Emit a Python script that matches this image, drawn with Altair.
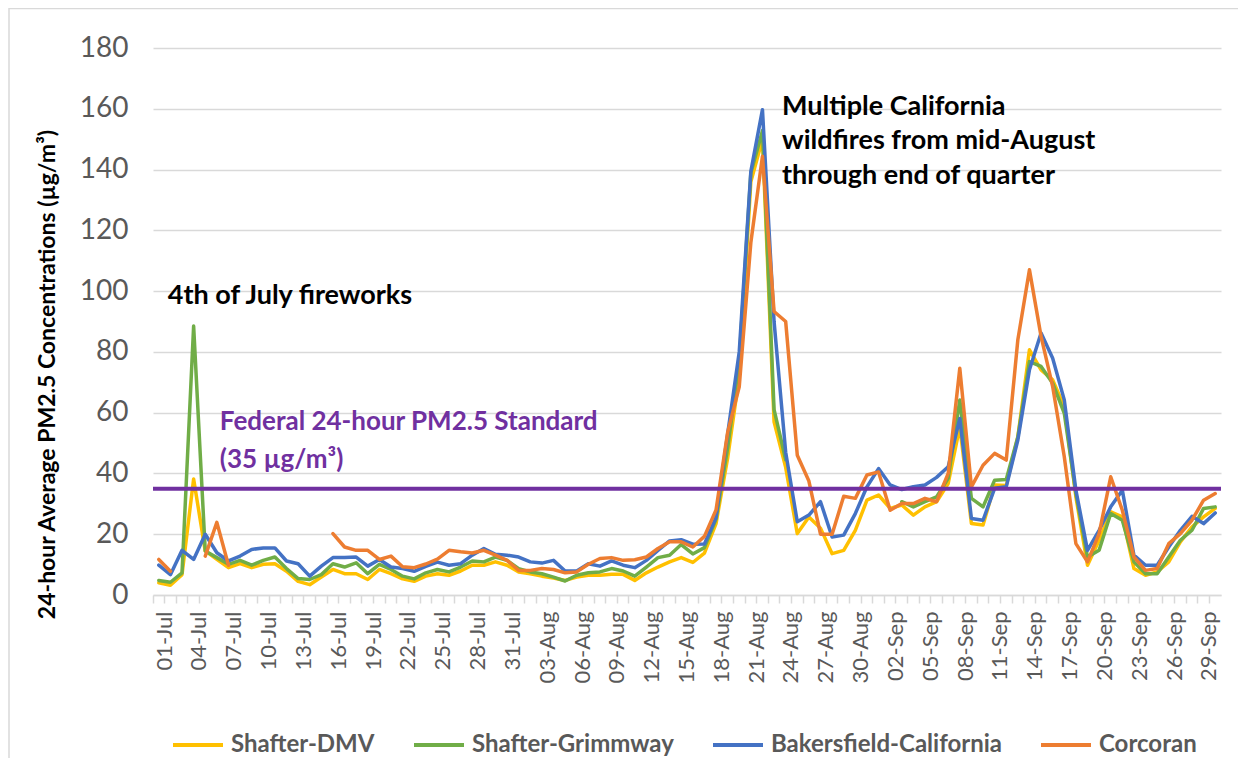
import json
import altair as alt
import pandas as pd

# ---------------- data ----------------
months = [("Jul", 31), ("Aug", 31), ("Sep", 30)]
dates = [f"{d:02d}-{m}" for m, n in months for d in range(1, n + 1)]
label_dates = dates[::3]

series_names = ["Shafter-DMV", "Shafter-Grimmway", "Bakersfield-California", "Corcoran"]
series_colors = ["#FFC000", "#70AD47", "#4472C4", "#ED7D31"]

shafter_dmv = [
    4.0, 3.2, 6.7, 38.2, 14.5, 11.7, 9.0, 10.3, 9.0, 10.1,
    10.3, 7.8, 4.5, 3.4, 5.9, 8.4, 7.0, 7.0, 5.1, 8.4,
    7.0, 5.3, 4.5, 6.2, 7.0, 6.5, 7.9, 9.8, 9.8, 10.9,
    9.8, 7.6, 7.0, 6.2, 5.6, 4.8, 5.9, 6.5, 6.5, 6.8,
    6.8, 4.8, 7.3, 9.2, 10.9, 12.3, 10.7, 13.8, 23.5, 45.0,
    72.0, 136.0, 150.0, 57.0, 42.0, 20.2, 25.7, 22.0, 13.6, 14.7,
    21.3, 31.2, 32.9, 28.5, 29.6, 26.3, 29.0, 30.7, 36.7, 55.4,
    23.5, 23.0, 36.2, 36.0, 52.0, 80.7, 74.1, 70.8, 62.0, 32.3,
    9.8, 18.0, 27.4, 25.7, 8.7, 6.5, 7.6, 10.9, 17.5, 22.4,
    25.7, 28.5,
]
shafter_grimmway = [
    4.8, 4.2, 7.3, 88.5, 14.5, 12.3, 10.1, 11.4, 9.8, 11.4,
    12.5, 8.7, 5.4, 5.1, 6.7, 10.3, 9.2, 10.6, 7.0, 10.1,
    8.4, 6.2, 5.3, 7.3, 8.4, 7.6, 9.2, 11.2, 10.9, 12.5,
    11.4, 8.7, 7.6, 7.0, 5.9, 4.6, 6.5, 7.3, 7.6, 8.7,
    7.9, 6.2, 9.2, 12.3, 13.1, 16.6, 13.5, 15.6, 25.0, 48.3,
    77.0, 138.9, 152.8, 61.0, 44.5, None, None, None, None, None,
    None, None, None, None, 30.7, 29.0, 30.7, 32.3, 38.4, 64.2,
    31.8, 29.0, 37.8, 38.0, 52.0, 76.8, 75.2, 69.7, 59.8, 33.4,
    12.5, 14.7, 26.8, 24.6, 10.9, 7.0, 7.0, 12.5, 18.0, 21.3,
    28.5, 29.0,
]
bakersfield = [
    9.8, 6.7, 14.7, 11.7, 20.0, 13.9, 11.2, 12.8, 15.0, 15.5,
    15.5, 11.2, 10.3, 6.2, 9.5, 12.3, 12.3, 12.5, 9.5, 11.7,
    9.2, 8.7, 7.8, 9.4, 10.8, 9.8, 10.3, 13.1, 15.3, 13.4,
    13.1, 12.5, 10.9, 10.5, 11.4, 7.9, 7.9, 10.3, 9.5, 11.2,
    9.8, 9.0, 11.4, 14.7, 17.8, 18.2, 16.7, 16.8, 25.5, 53.0,
    80.0, 139.4, 159.7, 90.0, 47.0, 24.1, 26.3, 30.7, 19.1, 19.7,
    26.8, 35.6, 41.6, 36.2, 34.7, 35.6, 36.2, 38.7, 42.2, 58.1,
    25.2, 24.6, 35.1, 35.6, 51.0, 74.1, 86.2, 77.9, 64.2, 34.5,
    14.7, 21.3, 29.0, 34.5, 13.1, 9.8, 9.8, 15.8, 21.3, 25.9,
    23.5, 27.0,
]
corcoran = [
    11.7, 7.8, None, None, 12.8, 23.9, 9.8, None, None, None,
    None, None, None, None, None, 20.2, 15.8, 14.7, 14.7, 11.7,
    12.8, 9.3, 9.0, 10.2, 11.8, 14.7, 14.2, 13.8, 14.7, 13.1,
    11.4, 8.1, 8.1, 8.7, 8.4, 7.3, 7.6, 10.1, 12.0, 12.3,
    11.4, 11.6, 12.5, 15.3, 17.5, 17.5, 15.8, 19.3, 28.0, 53.5,
    68.5, 116.0, 144.4, 93.3, 90.0, 46.0, 37.5, 20.0, 20.0, 32.5,
    31.8, 39.5, 40.5, 27.9, 30.1, 30.1, 31.8, 30.7, 40.0, 74.6,
    35.6, 42.7, 46.6, 44.4, 84.0, 107.0, 85.1, 68.6, 45.5, 16.9,
    10.9, 20.2, 38.9, 27.9, 12.5, 8.1, 8.7, 16.9, 20.2, 24.6,
    31.2, 33.4,
]
all_series = [shafter_dmv, shafter_grimmway, bakersfield, corcoran]

standard = 35
standard_text = ["Federal 24-hour PM2.5 Standard", "(35 µg/m³)"]
fireworks_text = ["4th of July fireworks"]
wildfire_text = ["Multiple California", "wildfires from mid-August", "through end of quarter"]

y_title = "24-hour Average PM2.5 Concentrations (µg/m³)"
y_ticks = list(range(0, 181, 20))

# ---------------- tables ----------------
rows = []
for name, vals in zip(series_names, all_series):
    for d, v in zip(dates, vals):
        rows.append({"date": d, "series": name, "value": v})
df = pd.DataFrame(rows)

W, H = 1068, 547
band = W / len(dates)
FONT = "Lato"

x_enc = alt.X(
    "date:O",
    sort=dates,
    scale=alt.Scale(type="band", domain=dates, paddingInner=0, paddingOuter=0),
    axis=alt.Axis(
        title=None,
        labelAngle=-90,
        labelExpr="indexof(" + json.dumps(label_dates) + ", datum.value) >= 0 ? datum.value : ''",
        labelOverlap=False,
        bandPosition=0,
        labelOffset=band / 2,
        labelFont=FONT,
        labelFontSize=22,
        labelColor="#595959",
        labelPadding=8,
        tickColor="#D9D9D9",
        tickSize=8,
        tickWidth=1.5,
        domainColor="#D9D9D9",
        domainWidth=1.5,
        grid=False,
    ),
)
y_enc = alt.Y(
    "value:Q",
    scale=alt.Scale(domain=[0, 180], nice=False, zero=True),
    axis=alt.Axis(
        values=y_ticks,
        title=y_title,
        titleFont=FONT,
        titleFontSize=23,
        titleFontWeight="bold",
        titleColor="#000000",
        titleX=-106,
        titleY=326,
        titleBaseline="middle",
        labelFont=FONT,
        labelFontSize=28,
        labelColor="#595959",
        labelPadding=25,
        ticks=False,
        domain=False,
        gridColor="#D9D9D9",
        gridWidth=1.5,
    ),
)

legend = alt.Legend(
    title=None,
    orient="none",
    legendX=18,
    legendY=670,
    direction="horizontal",
    symbolType="stroke",
    symbolSize=2500,
    symbolStrokeWidth=4,
    labelFont=FONT,
    labelFontSize=24,
    labelFontWeight="bold",
    labelColor="#595959",
    labelOffset=6,
    labelLimit=500,
    columnPadding=31,
    padding=0,
)
color_enc = alt.Color(
    "series:N",
    scale=alt.Scale(domain=series_names, range=series_colors),
    legend=legend,
)

frame = alt.Chart(pd.DataFrame({"k": [0]})).mark_rect(
    filled=False, stroke="#D9D9D9", strokeWidth=1.5
).encode(
    x=alt.value(-144), x2=alt.value(W + 80), y=alt.value(-39.5), y2=alt.value(H + 300)
)

line_layers = []
for name in series_names:
    line_layers.append(
        alt.Chart(df)
        .transform_filter(alt.datum.series == name)
        .mark_line(strokeWidth=3.5, strokeJoin="round", strokeCap="round",
                   invalid="break-paths-show-domains")
        .encode(x=x_enc, y=y_enc, color=color_enc)
    )

std_rule = alt.Chart(pd.DataFrame({"value": [standard]})).mark_rule(
    color="#7030A0", strokeWidth=4
).encode(y=y_enc)

fire_df = pd.DataFrame({"date": [dates[0]], "value": [98.4], "text": fireworks_text})
fire_txt = alt.Chart(fire_df).mark_text(
    align="left", baseline="middle", dx=9, font=FONT, fontSize=27,
    fontWeight="bold", color="#000000"
).encode(x=x_enc, y=y_enc, text="text:N")

wild_df = pd.DataFrame({"date": [dates[53]] * 3, "value": [160.6, 149.4, 137.9], "text": wildfire_text})
wild_txt = alt.Chart(wild_df).mark_text(
    align="left", baseline="middle", dx=8, font=FONT, fontSize=27,
    fontWeight="bold", color="#000000"
).encode(x=x_enc, y=y_enc, text="text:N")

std_df = pd.DataFrame({"date": [dates[5]] * 2, "value": [56.9, 44.4], "text": standard_text})
std_txt = alt.Chart(std_df).mark_text(
    align="left", baseline="middle", dx=3, font=FONT, fontSize=26,
    fontWeight="bold", color="#7030A0"
).encode(x=x_enc, y=y_enc, text="text:N")

chart = (
    alt.layer(frame, *line_layers, std_rule, fire_txt, wild_txt, std_txt)
    .properties(
        width=W,
        height=H,
        padding={"left": 145, "top": 40, "right": 17, "bottom": 163},
        autosize=alt.AutoSizeParams(type="none"),
        background="#FFFFFF",
    )
    .configure_view(stroke=None)
)

chart.save("out.html", embed_options={"renderer": "svg", "actions": False})
